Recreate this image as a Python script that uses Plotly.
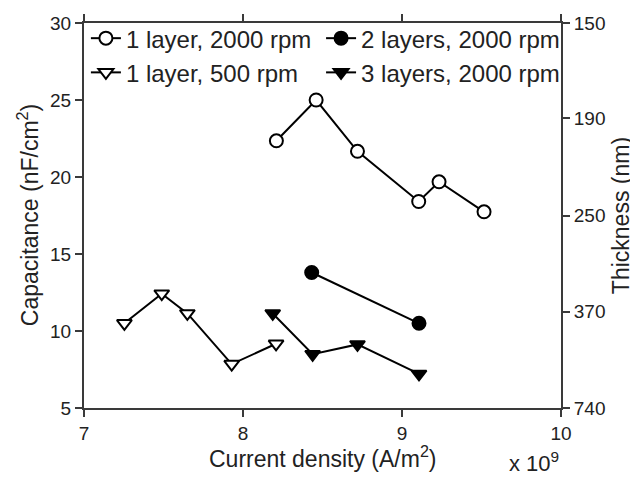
import plotly.graph_objects as go

# Current density in units of 1e9 A/m^2, capacitance in nF/cm^2
s1_name = "1 layer, 2000 rpm"
s1_x = [8.21, 8.46, 8.72, 9.105, 9.233, 9.516]
s1_y = [22.35, 25.0, 21.67, 18.41, 19.69, 17.74]

s2_name = "2 layers, 2000 rpm"
s2_x = [8.432, 9.107]
s2_y = [13.8, 10.5]

s3_name = "1 layer, 500 rpm"
s3_x = [7.254, 7.489, 7.65, 7.929, 8.208]
s3_y = [10.5, 12.42, 11.14, 7.85, 9.17]

s4_name = "3 layers, 2000 rpm"
s4_x = [8.187, 8.438, 8.72, 9.107]
s4_y = [11.14, 8.49, 9.13, 7.21]

x_ticks = [7, 8, 9, 10]
cap_ticks = [5, 10, 15, 20, 25, 30]
thickness_labels = ["150", "190", "250", "370", "740"]
thickness_pos = [30, 23.8, 17.5, 11.25, 5]

FONT = "Liberation Sans, Arial, sans-serif"
TXT = "#222222"
AX = "#3a3a3a"

fig = go.Figure()

def add(x, y, name, symbol, filled, yaxis="y", legend="legend"):
    fig.add_trace(go.Scatter(
        x=x, y=y, name=name, mode="lines+markers", yaxis=yaxis, legend=legend,
        line=dict(color="black", width=2),
        marker=dict(symbol=symbol, size=13,
                    color="black" if filled else "white",
                    line=dict(color="black", width=2)),
    ))

add(s1_x, s1_y, s1_name, "circle", False)
add(s2_x, s2_y, s2_name, "circle", True, yaxis="y2", legend="legend2")
add(s3_x, s3_y, s3_name, "triangle-down", False)
add(s4_x, s4_y, s4_name, "triangle-down", True, legend="legend2")

axis_common = dict(showline=True, linecolor=AX, linewidth=2, ticks="outside",
                   tickcolor=AX, tickwidth=2, ticklen=7, showgrid=False,
                   zeroline=False, automargin=False,
                   tickfont=dict(family=FONT, size=19, color=TXT))

TITLE_FONT = dict(family=FONT, size=23, color=TXT)
LEG_FONT = dict(family=FONT, size=24, color=TXT)

fig.update_layout(
    width=630, height=471,
    margin=dict(l=76, r=77, t=8, b=71),
    paper_bgcolor="white", plot_bgcolor="white",
    font=dict(family=FONT, color=TXT),
    xaxis=dict(range=[7, 10], tickvals=x_ticks, mirror="ticks", **axis_common),
    yaxis=dict(range=[5, 30], tickvals=cap_ticks, **axis_common),
    yaxis2=dict(range=[5, 30], overlaying="y", side="right",
                tickvals=thickness_pos, ticktext=thickness_labels, **axis_common),
    legend=dict(orientation="v", x=0.004, y=1.018, xanchor="left", yanchor="top",
                font=LEG_FONT, bgcolor="rgba(0,0,0,0)", itemwidth=30,
                tracegroupgap=0),
    legend2=dict(orientation="v", x=0.497, y=1.018, xanchor="left", yanchor="top",
                 font=LEG_FONT, bgcolor="rgba(0,0,0,0)", itemwidth=30,
                 tracegroupgap=0),
    annotations=[
        dict(text="x 10<sup>9</sup>", xref="paper", yref="paper",
             x=1.0, y=-0.14, xanchor="right", yanchor="middle",
             showarrow=False, font=dict(family=FONT, size=22, color=TXT)),
        dict(text="Current density (A/m<sup>2</sup>)", xref="paper", yref="paper",
             x=0.5, y=-0.127, xanchor="center", yanchor="middle",
             showarrow=False, font=TITLE_FONT),
        dict(text="Capacitance (nF/cm<sup>2</sup>)", xref="paper", yref="paper",
             x=-0.118, y=0.5, xanchor="center", yanchor="middle", textangle=-90,
             showarrow=False, font=TITLE_FONT),
        dict(text="Thickness (nm)", xref="paper", yref="paper",
             x=1.125, y=0.5, xanchor="center", yanchor="middle", textangle=-90,
             showarrow=False, font=TITLE_FONT),
    ],
)

fig.write_html("out.html")
